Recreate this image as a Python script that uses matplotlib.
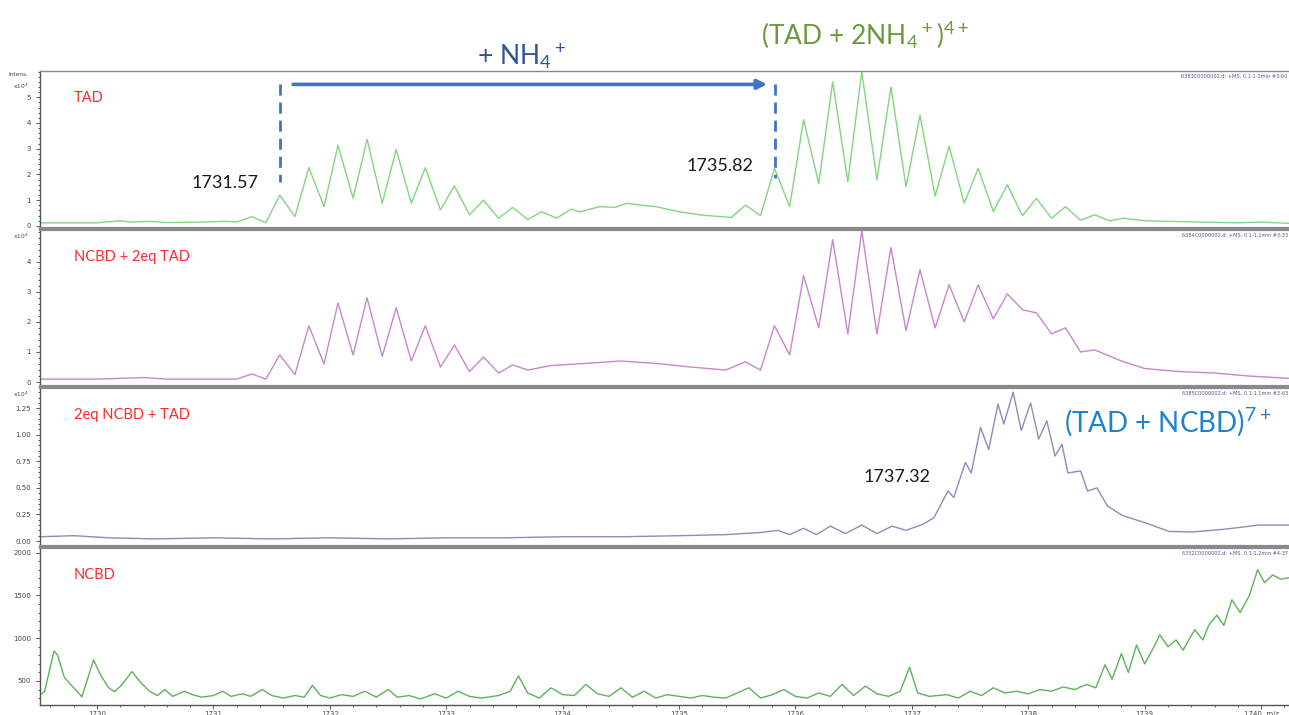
"""Stacked mass spectra: TAD / NCBD complex, m/z 1729.5-1740.2."""

import matplotlib
matplotlib.use("Agg")
import matplotlib.pyplot as plt

plt.rcParams["mathtext.default"] = "regular"

# --- data ------------------------------------------------------------------
# panel 1: TAD  (intensity x10^4)
tad_mz = [1729.51, 1730.00, 1730.20, 1730.30, 1730.45, 1730.60, 1730.90, 1731.10, 1731.20,
          1731.33, 1731.45, 1731.57, 1731.70, 1731.82, 1731.95, 1732.07, 1732.20, 1732.32,
          1732.45, 1732.57, 1732.70, 1732.82, 1732.95, 1733.07, 1733.20, 1733.32, 1733.45,
          1733.57, 1733.70, 1733.82, 1733.95, 1734.07, 1734.15, 1734.32, 1734.45, 1734.55,
          1734.65, 1734.80, 1735.00, 1735.20, 1735.45, 1735.57, 1735.70, 1735.82, 1735.95,
          1736.07, 1736.20, 1736.32, 1736.45, 1736.57, 1736.70, 1736.82, 1736.95, 1737.07,
          1737.20, 1737.32, 1737.45, 1737.57, 1737.70, 1737.82, 1737.95, 1738.07, 1738.20,
          1738.32, 1738.45, 1738.57, 1738.70, 1738.82, 1739.00, 1739.20, 1739.50, 1739.80,
          1740.00, 1740.25]
tad_int = [0.12, 0.12, 0.20, 0.15, 0.18, 0.13, 0.15, 0.18, 0.15,
           0.36, 0.12, 1.20, 0.36, 2.27, 0.75, 3.14, 1.07, 3.37,
           0.88, 2.97, 0.88, 2.26, 0.62, 1.56, 0.43, 1.00, 0.30,
           0.72, 0.25, 0.55, 0.30, 0.65, 0.55, 0.75, 0.72, 0.88,
           0.82, 0.75, 0.55, 0.42, 0.33, 0.81, 0.40, 2.24, 0.75,
           4.13, 1.65, 5.60, 1.72, 6.00, 1.78, 5.40, 1.52, 4.30,
           1.16, 3.10, 0.88, 2.24, 0.56, 1.60, 0.40, 1.07, 0.30,
           0.75, 0.22, 0.43, 0.20, 0.30, 0.20, 0.18, 0.15, 0.12,
           0.15, 0.10]

# panel 2: NCBD + 2eq TAD  (x10^4)
mix1_mz = [1729.51, 1730.00, 1730.40, 1730.60, 1731.00, 1731.20, 1731.33, 1731.45, 1731.57,
           1731.70, 1731.82, 1731.95, 1732.07, 1732.20, 1732.32, 1732.45, 1732.57, 1732.70,
           1732.82, 1732.95, 1733.07, 1733.20, 1733.32, 1733.45, 1733.57, 1733.70, 1733.90,
           1734.20, 1734.50, 1734.80, 1735.10, 1735.40, 1735.57, 1735.70, 1735.82, 1735.95,
           1736.07, 1736.20, 1736.32, 1736.45, 1736.57, 1736.70, 1736.82, 1736.95, 1737.07,
           1737.20, 1737.32, 1737.45, 1737.57, 1737.70, 1737.82, 1737.95, 1738.07, 1738.20,
           1738.32, 1738.45, 1738.57, 1738.80, 1739.00, 1739.30, 1739.60, 1739.90, 1740.25]
mix1_int = [0.10, 0.10, 0.15, 0.10, 0.10, 0.10, 0.27, 0.10, 0.90,
            0.25, 1.87, 0.60, 2.63, 0.90, 2.80, 0.85, 2.47, 0.70,
            1.87, 0.50, 1.23, 0.35, 0.83, 0.30, 0.57, 0.40, 0.55,
            0.62, 0.70, 0.62, 0.50, 0.40, 0.67, 0.40, 1.87, 0.90,
            3.53, 1.80, 4.73, 1.60, 5.03, 1.60, 4.47, 1.70, 3.73,
            1.80, 3.23, 2.00, 3.23, 2.10, 2.93, 2.40, 2.30, 1.60,
            1.80, 1.00, 1.07, 0.70, 0.45, 0.35, 0.30, 0.20, 0.12]

# panel 3: 2eq NCBD + TAD  (x10^4)
mix2_mz = [1729.51, 1729.80, 1730.10, 1730.50, 1731.00, 1731.50, 1732.00, 1732.50, 1733.00,
           1733.50, 1734.00, 1734.50, 1735.00, 1735.40, 1735.70, 1735.85, 1735.95, 1736.07,
           1736.18, 1736.30, 1736.43, 1736.57, 1736.70, 1736.83, 1736.95, 1737.10, 1737.19,
           1737.31, 1737.36, 1737.46, 1737.51, 1737.59, 1737.66, 1737.74, 1737.79, 1737.87,
           1737.94, 1738.02, 1738.09, 1738.16, 1738.23, 1738.29, 1738.34, 1738.45, 1738.51,
           1738.59, 1738.68, 1738.81, 1739.01, 1739.21, 1739.41, 1739.68, 1739.98, 1740.25]
mix2_int = [0.04, 0.05, 0.03, 0.02, 0.03, 0.02, 0.03, 0.02, 0.03,
            0.03, 0.04, 0.04, 0.05, 0.06, 0.08, 0.10, 0.06, 0.12,
            0.06, 0.14, 0.07, 0.15, 0.07, 0.14, 0.10, 0.16, 0.22,
            0.47, 0.41, 0.74, 0.64, 1.07, 0.86, 1.29, 1.10, 1.40,
            1.04, 1.30, 0.96, 1.13, 0.80, 0.91, 0.64, 0.66, 0.47,
            0.50, 0.33, 0.24, 0.17, 0.09, 0.085, 0.11, 0.15, 0.15]

# panel 4: NCBD  (absolute intensity)
ncbd_mz = [1729.51, 1729.55, 1729.63, 1729.66, 1729.72, 1729.80, 1729.87, 1729.97, 1730.03,
           1730.10, 1730.15, 1730.21, 1730.30, 1730.37, 1730.45, 1730.52, 1730.58, 1730.65,
           1730.75, 1730.82, 1730.90, 1731.00, 1731.08, 1731.15, 1731.25, 1731.32, 1731.42,
           1731.50, 1731.60, 1731.70, 1731.78, 1731.85, 1731.92, 1732.00, 1732.10, 1732.20,
           1732.30, 1732.40, 1732.50, 1732.58, 1732.68, 1732.78, 1732.90, 1733.00, 1733.10,
           1733.20, 1733.30, 1733.45, 1733.55, 1733.62, 1733.70, 1733.80, 1733.90, 1734.00,
           1734.10, 1734.20, 1734.30, 1734.40, 1734.50, 1734.60, 1734.70, 1734.80, 1734.90,
           1735.00, 1735.10, 1735.20, 1735.30, 1735.40, 1735.50, 1735.60, 1735.70, 1735.80,
           1735.90, 1736.00, 1736.10, 1736.20, 1736.30, 1736.40, 1736.50, 1736.60, 1736.70,
           1736.80, 1736.90, 1736.98, 1737.05, 1737.15, 1737.30, 1737.40, 1737.50, 1737.60,
           1737.70, 1737.80, 1737.90, 1738.00, 1738.10, 1738.20, 1738.30, 1738.40, 1738.50,
           1738.58, 1738.66, 1738.72, 1738.80, 1738.86, 1738.93, 1739.00, 1739.08, 1739.13,
           1739.20, 1739.27, 1739.33, 1739.43, 1739.50, 1739.55, 1739.62, 1739.68, 1739.75,
           1739.82, 1739.90, 1739.97, 1740.03, 1740.10, 1740.17, 1740.25]
ncbd_int = [336, 380, 850, 805, 540, 420, 315, 745, 570,
            420, 375, 450, 610, 490, 380, 330, 400, 320,
            380, 340, 310, 330, 380, 320, 350, 320, 400,
            330, 300, 330, 310, 450, 330, 300, 340, 320,
            380, 310, 400, 310, 330, 290, 350, 300, 380,
            320, 300, 330, 380, 560, 360, 300, 420, 340,
            330, 460, 350, 320, 420, 310, 380, 300, 340,
            320, 300, 330, 310, 300, 360, 420, 300, 340,
            400, 320, 300, 360, 320, 460, 330, 440, 350,
            320, 380, 660, 360, 320, 340, 300, 380, 330,
            420, 360, 380, 350, 400, 380, 430, 400, 460,
            420, 690, 520, 820, 600, 920, 700, 900, 1040,
            900, 980, 860, 1100, 980, 1150, 1270, 1150, 1450,
            1300, 1500, 1800, 1650, 1740, 1690, 1710]

panel_labels = ["TAD", "NCBD + 2eq TAD", "2eq NCBD + TAD", "NCBD"]
file_tags = [
    "6383C0000002.d: +MS, 0.1-1.0min #3-60",
    "6384C0000002.d: +MS, 0.1-1.1min #3-33",
    "6385C0000002.d: +MS, 0.1-1.1min #3-63",
    "6352C0000002.d: +MS, 0.1-1.2min #4-37",
]
x_ticks = [1730, 1731, 1732, 1733, 1734, 1735, 1736, 1737, 1738, 1739, 1740]

# --- layout ----------------------------------------------------------------
W, H = 1289, 715
fig = plt.figure(figsize=(W / 100, H / 100), dpi=100)


def px_axes(top, bottom):
    return fig.add_axes([40 / W, 1 - bottom / H, 1 - 40 / W, (bottom - top) / H])


axes = [px_axes(71, 228), px_axes(230, 386), px_axes(388, 546), px_axes(548, 705)]
series = [(tad_mz, tad_int), (mix1_mz, mix1_int), (mix2_mz, mix2_int), (ncbd_mz, ncbd_int)]
colors = ["#82d67f", "#c986cf", "#8c8cbc", "#5db35a"]
ylims = [(-0.08, 6.02), (-0.13, 5.05), (-0.047, 1.44), (219, 2055)]
yticks = [[0, 1, 2, 3, 4, 5], [0, 1, 2, 3, 4], [0, 0.25, 0.5, 0.75, 1.0, 1.25],
          [500, 1000, 1500, 2000]]
yfmt = ["{:.0f}", "{:.0f}", "{:.2f}", "{:.0f}"]

for i, ax in enumerate(axes):
    mz, inten = series[i]
    ax.plot(mz, inten, color=colors[i], lw=1.0)
    ax.set_xlim(1729.51, 1740.24)
    ax.set_ylim(*ylims[i])
    ax.set_yticks(yticks[i])
    ax.set_yticklabels([yfmt[i].format(v) for v in yticks[i]])
    ax.minorticks_on()
    ax.tick_params(axis="both", which="both", direction="out", color="#555555",
                   labelsize=5, labelcolor="#444444", length=3, width=0.7)
    ax.tick_params(axis="both", which="minor", length=1.5)
    ax.set_xticks(x_ticks)
    if i < 3:
        ax.tick_params(axis="x", which="both", labelbottom=False, length=0)
    else:
        ax.set_xticklabels([f"{t}" for t in x_ticks[:-1]] + ["1740  m/z"])
        ax.tick_params(axis="x", pad=1)
    for side in ("top", "bottom"):
        ax.spines[side].set_color("#8a8a8a")
        ax.spines[side].set_linewidth(1.6)
    ax.spines["right"].set_visible(False)
    ax.spines["left"].set_color("#555555")
    ax.spines["left"].set_linewidth(1.0)
    ax.text(0.027, 0.83, panel_labels[i], transform=ax.transAxes, color="#ff2a2a",
            fontsize=10.5, family="Lato", ha="left", va="center")
    ax.text(0.999, 0.985, file_tags[i], transform=ax.transAxes, color="#6a4a8a",
            fontsize=3.6, ha="right", va="top")

axes[3].spines["bottom"].set_color("#555555")
axes[3].spines["bottom"].set_linewidth(1.0)
axes[0].spines["top"].set_linewidth(1.0)

# unit captions beside the y axes
axes[0].text(-0.025, 0.975, "Intens.", transform=axes[0].transAxes, fontsize=4.2,
             color="#444444", ha="left", va="center")
axes[0].text(-0.022, 0.905, "x10$^4$", transform=axes[0].transAxes, fontsize=4.2,
             color="#444444", ha="left", va="center")
for ax in axes[1:3]:
    ax.text(-0.022, 0.99, "x10$^4$", transform=ax.transAxes, fontsize=4.2,
            color="#444444", ha="left", va="top")

# --- annotations ------------------------------------------------------------
ax1 = axes[0]
blue = "#4472c4"
ax1.annotate("", xy=(1735.78, 5.5), xytext=(1731.66, 5.5),
             arrowprops=dict(arrowstyle="-|>", color=blue, lw=2.6, mutation_scale=14),
             annotation_clip=False)
ax1.plot([1731.57, 1731.57], [5.5, 1.7], color=blue, lw=2.0, ls=(0, (4, 2.5)))
ax1.plot([1735.82, 1735.82], [5.5, 1.86], color=blue, lw=2.0, ls=(0, (4, 2.5)))
ax1.text(1731.10, 1.67, "1731.57", fontsize=13, family="Lato", color="#1a1a1a",
         ha="center", va="center")
ax1.text(1735.35, 2.33, "1735.82", fontsize=13, family="Lato", color="#1a1a1a",
         ha="center", va="center")

fig.text(522 / W, 1 - 57 / H, "+ NH$_4$$^+$", fontsize=19, family="Lato",
         color="#2f5597", ha="center", va="center")
fig.text(865 / W, 1 - 35 / H, "(TAD + 2NH$_4$$^+$)$^{4+}$", fontsize=19, family="Lato",
         color="#6a9a40", ha="center", va="center")

ax3 = axes[2]
ax3.text(1736.87, 0.60, "1737.32", fontsize=13, family="Lato", color="#1a1a1a",
         ha="center", va="center")
ax3.text(1739.20, 1.12, "(TAD + NCBD)$^{7+}$", fontsize=20, family="Lato",
         color="#1f82cc", ha="center", va="center")

fig.savefig("out.png", dpi=100)
